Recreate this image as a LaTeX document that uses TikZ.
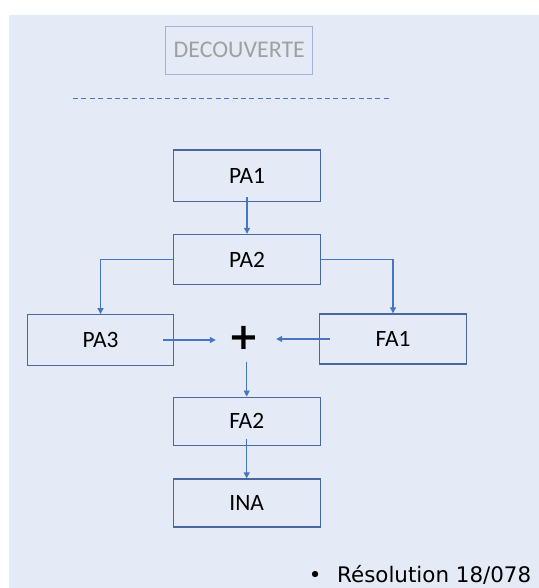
\documentclass[tikz,border=0pt]{standalone}
\usepackage{fontspec}
\setmainfont{Carlito}
\newfontfamily\dejavu{DejaVu Sans}
\usetikzlibrary{arrows.meta,calc}
\definecolor{bgblue}{RGB}{228,235,246}
\definecolor{boxline}{RGB}{72,104,164}
\definecolor{arrblue}{RGB}{72,116,196}
\definecolor{declines}{RGB}{160,180,215}
\definecolor{decgray}{RGB}{160,160,160}
\tikzset{
  stepbox/.style={draw=boxline, line width=1.4bp, minimum width=147bp, minimum height=49bp,
    inner sep=0pt, font=\fontsize{23.5}{26}\selectfont},
  arr/.style={draw=arrblue, line width=1.2bp, -{Triangle[length=6bp,width=6bp]}},
  con/.style={draw=arrblue, line width=1.2bp}
}
\begin{document}
\begin{tikzpicture}[x=1bp,y=-1bp]
\useasboundingbox (0,0) rectangle (539,588);
\fill[bgblue] (9,15) rectangle (539,588);
% title
\node[draw=declines, line width=1bp, minimum width=146.7bp, minimum height=48.3bp, inner sep=0pt,
  text=decgray, font=\fontsize{24}{26}\selectfont] (dec) at (239.3,50.2) {DECOUVERTE};
\coordinate (dl) at (73,98.7);
\coordinate (dr) at (392,98.7);
\draw[arrblue, line width=1bp, dash pattern=on 5bp off 3.4bp] (dl) -- (dr);
% boxes
\node[stepbox, minimum height=51bp] (PA1) at (247,175.7) {PA1};
\node[stepbox, minimum height=50bp] (PA2) at (247,259.5) {PA2};
\node[stepbox, minimum width=146bp, minimum height=50.5bp] (PA3) at (100.5,340) {PA3};
\node[stepbox, minimum width=146.5bp, minimum height=50bp] (FA1) at (393,339) {FA1};
\node[minimum width=56bp, minimum height=47bp, inner sep=0pt, font=\dejavu\bfseries\fontsize{37}{37}\selectfont] (plus) at (244,338) {+};
\node[stepbox, minimum height=48bp] (FA2) at (246.7,421.3) {FA2};
\node[stepbox, minimum height=48bp] (INA) at (246.7,503) {INA};
% connectors
\draw[arr] ($(PA1.south)+(0,-4.5)$) -- (PA2.north);
\draw[arr] (PA2.west) -| (PA3.north);
\draw[arr] (PA2.east) -| (FA1.north);
\draw[arr] ($(PA3.east)+(-11,0)$) -- (plus.west |- PA3.east);
\draw[arr] ($(FA1.west)+(11,0)$) -- ($(plus.east |- FA1.west)+(4,0)$);
\draw[arr] (plus.south -| FA2.north) -- (FA2.north);
\draw[arr] ($(FA2.south)+(0,-7)$) -- (INA.north);
% footer
\node[anchor=base west, inner sep=0pt, font=\dejavu\fontsize{21.5}{24}\selectfont] (res) at (308.7,582) {•\hspace{15.6bp}Résolution 18/078};
\end{tikzpicture}
\end{document}
